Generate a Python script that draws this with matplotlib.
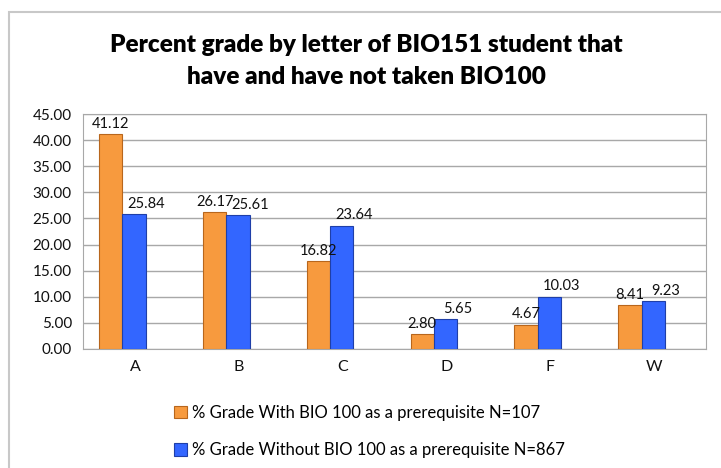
import matplotlib.pyplot as plt
import numpy as np
from matplotlib.patches import Rectangle

grades = ["A", "B", "C", "D", "F", "W"]
with_bio100 = [41.12, 26.17, 16.82, 2.80, 4.67, 8.41]
without_bio100 = [25.84, 25.61, 23.64, 5.65, 10.03, 9.23]
yticks = [0, 5, 10, 15, 20, 25, 30, 35, 40, 45]

plt.rcParams['font.family'] = ['Lato', 'DejaVu Sans']

fig = plt.figure(figsize=(7.21, 4.68), dpi=100)
# chart border (cropped at right/bottom)
fig.patches.append(Rectangle((9 / 721, -0.1), 1.2, 1 - 12 / 468 + 0.1,
                             transform=fig.transFigure, fill=False,
                             edgecolor='#c8c8c8', linewidth=1.5))

ax = fig.add_axes([83 / 721, 1 - 349 / 468, 623 / 721, 235 / 468])
x = np.arange(len(grades))
w = 0.225
off = -0.12
b1 = ax.bar(x + off - w / 2, with_bio100, w, color='#F79A3E', edgecolor='#B8661C', linewidth=0.8,
            label='% Grade With BIO 100 as a prerequisite N=107', zorder=3)
b2 = ax.bar(x + off + w / 2, without_bio100, w, color='#3366FF', edgecolor='#1F3FA8', linewidth=0.8,
            label='% Grade Without BIO 100 as a prerequisite N=867', zorder=3)

# labels: blue ones nudged right, like Excel does
for bars, vals, dx in [(b1, with_bio100, 0.0), (b2, without_bio100, 0.12)]:
    for r, v in zip(bars, vals):
        ax.text(r.get_x() + r.get_width() / 2 + dx, v + 0.6, f"{v:.2f}",
                ha='center', va='bottom', fontsize=10.5, color='#111111', zorder=4)

ax.set_xlim(-0.5, len(grades) - 0.5)
ax.set_ylim(0, 45)
ax.set_yticks(yticks)
ax.set_yticklabels([f"{t:.2f}" for t in yticks], fontsize=11, color='#111111')
ax.set_xticks(x)
ax.set_xticklabels(grades, fontsize=11.5, color='#111111')
ax.tick_params(length=0, pad=8)
ax.grid(axis='y', color='#a8a8a8', linewidth=1, zorder=0)
for s in ax.spines.values():
    s.set_color('#a8a8a8')

fig.text(366 / 721, 1 - 45 / 468, "Percent grade by letter of BIO151 student that",
         ha='center', va='center', fontsize=17.5, fontweight='heavy')
fig.text(366 / 721, 1 - 77 / 468, "have and have not taken BIO100",
         ha='center', va='center', fontsize=17.5, fontweight='heavy')

fig.legend(handles=[b1, b2], loc='upper left', bbox_to_anchor=(167 / 721, 1 - 398 / 468),
           frameon=False, fontsize=12, handlelength=0.8, handleheight=0.8,
           handletextpad=0.3, labelspacing=1.3, borderaxespad=0)

fig.savefig("out.png", dpi=100)
